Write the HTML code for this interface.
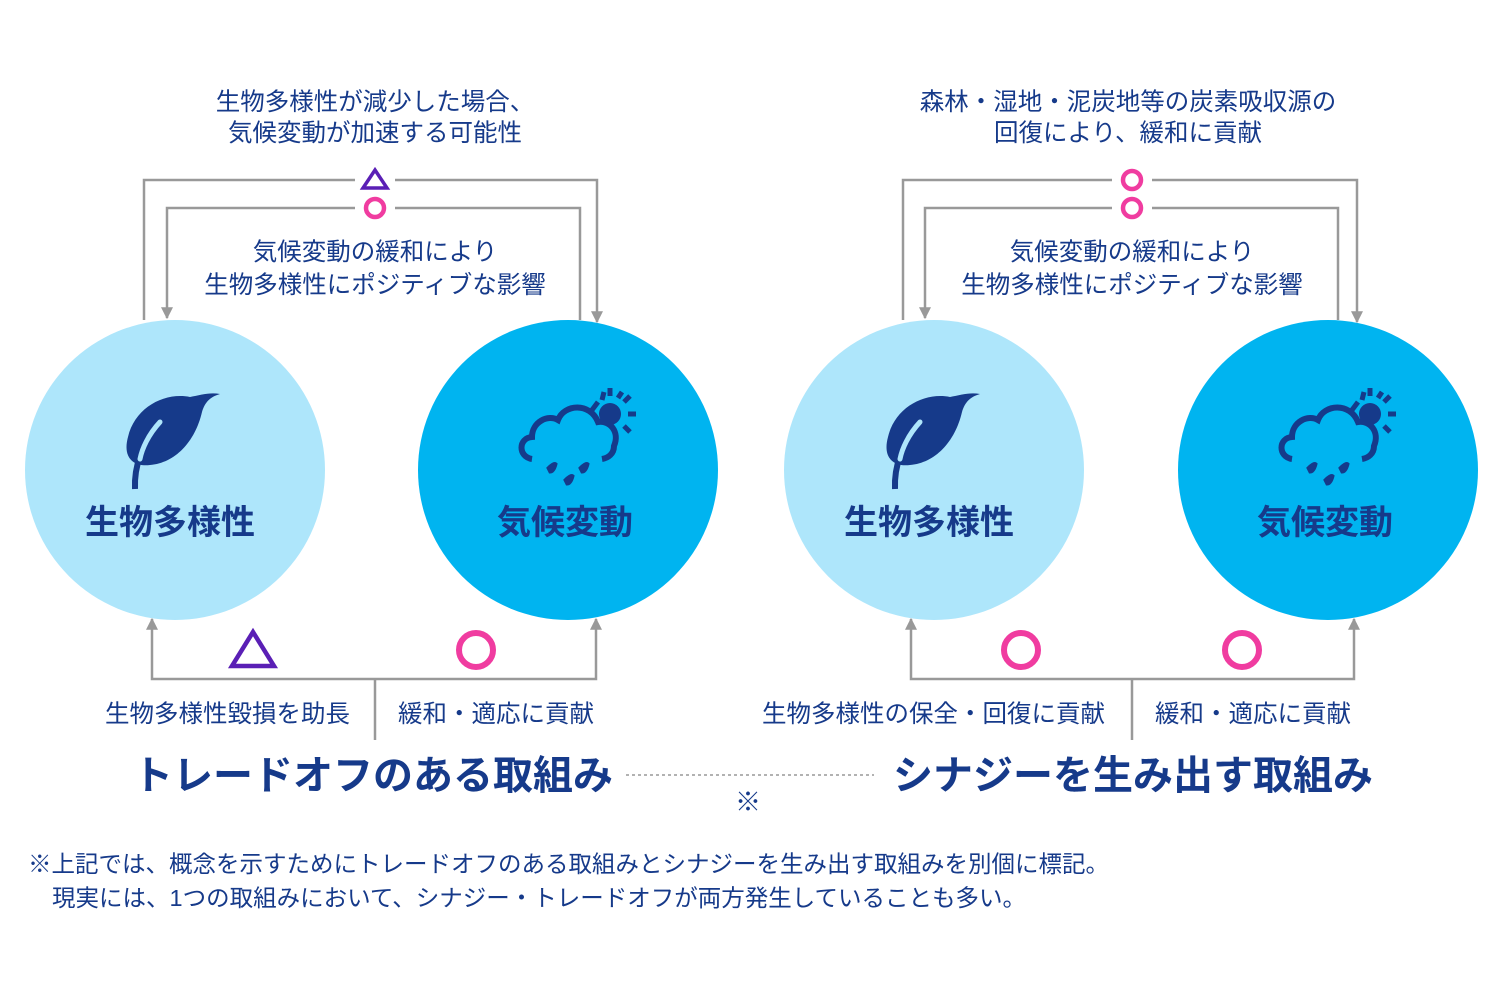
<!DOCTYPE html>
<html><head><meta charset="utf-8"><style>
html,body{margin:0;padding:0;background:#fff;}
svg{display:block}
text{font-family:"Liberation Sans","Noto Sans CJK JP",sans-serif;fill:#163a8a}
</style></head><body>
<svg width="1500" height="1000" viewBox="0 0 1500 1000" xmlns="http://www.w3.org/2000/svg">
<defs>
<marker id="ad" viewBox="0 0 10 10" refX="9" refY="5" markerWidth="12" markerHeight="12" markerUnits="userSpaceOnUse" orient="auto-start-reverse"><path d="M0,0 L10,5 L0,10 z" fill="#999"/></marker>
<g id="leaf">
<path d="M0,0 C-25,-5 -55,10 -62,40 C-68,62 -55,70 -40,68 C-15,66 5,45 12,15 C15,5 20,0 30,-3 C20,-5 10,-2 0,0 z" fill="#163a8a"/>
<path d="M-30,25 C-48,45 -56,70 -55,92" stroke="#163a8a" stroke-width="6" fill="none"/>
<path d="M-30,25 C-42,38 -48,52 -50,62" stroke="#aee6fb" stroke-width="5" fill="none" stroke-linecap="round"/>
</g>
<g id="cloud" fill="none" stroke="#163a8a" stroke-width="6">
<path d="M22,79 C8,77 8,58 22,57 C22,42 38,34 48,40 C54,24 80,22 88,42 C100,40 110,52 104,66 C104,74 98,78 92,79"/>
<circle cx="100" cy="34" r="11" fill="#163a8a" stroke="none"/>
<path d="M82,30 L88,22 M100,16 L100,8 M114,22 L120,16 M118,34 L126,34 M114,46 L120,52 M92,20 L94,12 M108,18 L112,12" stroke-width="5"/>
<path d="M38,88 q6,-6 8,-4 q-2,8 -6,8z M70,88 q6,-6 8,-4 q-2,8 -6,8z M55,100 q6,-6 8,-4 q-2,8 -6,8z" fill="#163a8a" stroke-width="3"/>
</g>
</defs>

<g font-size="24.5" text-anchor="middle">
<text x="375" y="110">生物多様性が減少した場合、</text>
<text x="375" y="141">気候変動が加速する可能性</text>
<text x="375" y="260">気候変動の緩和により</text>
<text x="375" y="293">生物多様性にポジティブな影響</text>
<text x="1128" y="110">森林・湿地・泥炭地等の炭素吸収源の</text>
<text x="1128" y="141">回復により、緩和に貢献</text>
<text x="1132" y="260">気候変動の緩和により</text>
<text x="1132" y="293">生物多様性にポジティブな影響</text>
</g>
<g stroke="#999" stroke-width="2.5" fill="none">
<path d="M144,320 V180 H355 M395,180 H597 V322" marker-end="url(#ad)"/>
<path d="M167,318 V208 H355 M395,208 H580 V320" marker-start="url(#ad)"/>
<path d="M903,320 V180 H1112 M1152,180 H1357 V322" marker-end="url(#ad)"/>
<path d="M925,318 V208 H1112 M1152,208 H1338 V320" marker-start="url(#ad)"/>
</g>
<path d="M375,170 L387,188 L363,188 z" fill="none" stroke="#5a1fb5" stroke-width="3.5"/>
<circle cx="375" cy="208" r="9" fill="none" stroke="#f03ca0" stroke-width="4.5"/>
<circle cx="1132" cy="180" r="9" fill="none" stroke="#f03ca0" stroke-width="4.5"/>
<circle cx="1132" cy="208" r="9" fill="none" stroke="#f03ca0" stroke-width="4.5"/>

<circle cx="175" cy="470" r="150" fill="#aee6fb"/>
<circle cx="568" cy="470" r="150" fill="#00b4f0"/>
<circle cx="934" cy="470" r="150" fill="#aee6fb"/>
<circle cx="1328" cy="470" r="150" fill="#00b4f0"/>
<use href="#leaf" x="190" y="397"/>
<use href="#leaf" x="950" y="397"/>
<use href="#cloud" x="510" y="380"/>
<use href="#cloud" x="1270" y="380"/>
<g font-size="34" font-weight="bold" text-anchor="middle">
<text x="170" y="534">生物多様性</text>
<text x="565" y="534">気候変動</text>
<text x="929" y="534">生物多様性</text>
<text x="1325" y="534">気候変動</text>
</g>

<g stroke="#999" stroke-width="2.5" fill="none">
<path d="M152,619 V679 H596 V619" marker-start="url(#ad)" marker-end="url(#ad)"/>
<path d="M375,679 V740"/>
<path d="M911,619 V679 H1354 V619" marker-start="url(#ad)" marker-end="url(#ad)"/>
<path d="M1132,679 V740"/>
</g>
<path d="M253,632 L274,666 L232,666 z" fill="none" stroke="#5a1fb5" stroke-width="4.5"/>
<circle cx="476" cy="650" r="17" fill="none" stroke="#f03ca0" stroke-width="6"/>
<circle cx="1021" cy="650" r="17" fill="none" stroke="#f03ca0" stroke-width="6"/>
<circle cx="1242" cy="650" r="17" fill="none" stroke="#f03ca0" stroke-width="6"/>
<g font-size="24.5">
<text x="350" y="722" text-anchor="end">生物多様性毀損を助長</text>
<text x="398" y="722">緩和・適応に貢献</text>
<text x="1105" y="722" text-anchor="end">生物多様性の保全・回復に貢献</text>
<text x="1155" y="722">緩和・適応に貢献</text>
</g>

<g font-size="40" font-weight="bold" text-anchor="middle">
<text x="373" y="789">トレードオフのある取組み</text>
<text x="1133" y="789">シナジーを生み出す取組み</text>
</g>
<line x1="626" y1="775" x2="874" y2="775" stroke="#999" stroke-width="1.5" stroke-dasharray="3,3"/>
<text x="748" y="811" font-size="26" text-anchor="middle">※</text>

<g font-size="23.5">
<text x="28" y="872">※上記では、概念を示すためにトレードオフのある取組みとシナジーを生み出す取組みを別個に標記。</text>
<text x="52" y="906">現実には、1つの取組みにおいて、シナジー・トレードオフが両方発生していることも多い。</text>
</g>
</svg>
</body></html>
